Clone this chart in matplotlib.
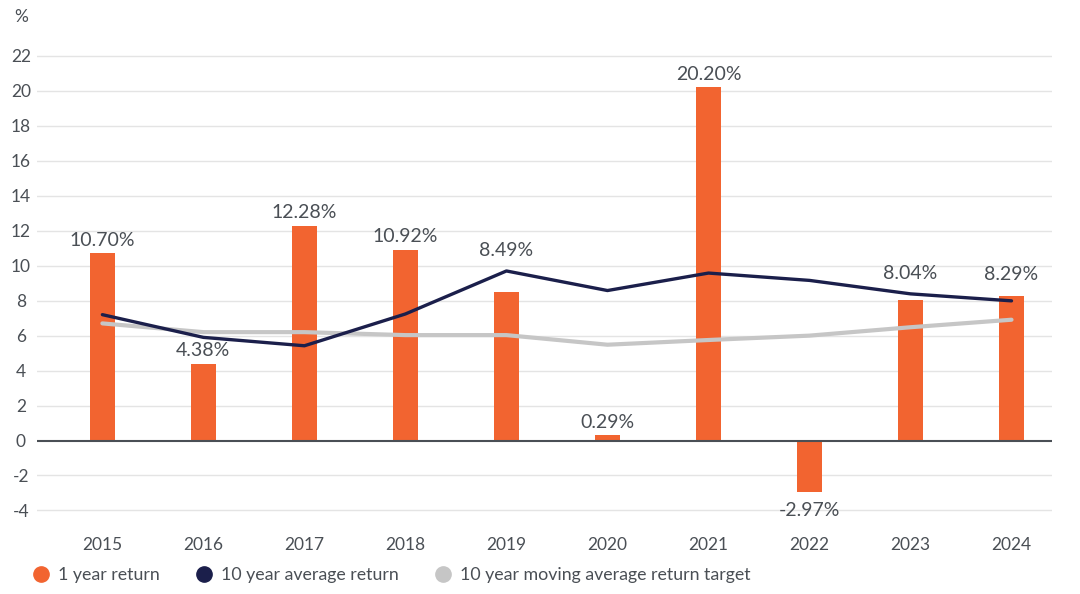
import matplotlib
matplotlib.use("Agg")
import matplotlib.pyplot as plt
from matplotlib.lines import Line2D

years = ["2015", "2016", "2017", "2018", "2019", "2020", "2021", "2022", "2023", "2024"]
one_year = [10.70, 4.38, 12.28, 10.92, 8.49, 0.29, 20.20, -2.97, 8.04, 8.29]
ten_year_avg = [7.2, 5.9, 5.42, 7.24, 9.7, 8.58, 9.58, 9.16, 8.39, 7.99]
ten_year_target = [6.7, 6.2, 6.2, 6.03, 6.03, 5.48, 5.75, 6.0, 6.48, 6.91]
yticks = [-4, -2, 0, 2, 4, 6, 8, 10, 12, 14, 16, 18, 20, 22]

orange = "#F26430"
navy = "#1B1F4B"
grey = "#C6C6C6"
txt = "#4A4F55"

plt.rcParams['font.family'] = ['Lato', 'DejaVu Sans']

fig = plt.figure(figsize=(10.8, 5.94), dpi=100)
ax = fig.add_axes([0.034, 0.126, 0.94, 0.793])

x = list(range(len(years)))

# grid lines
for t in yticks:
    if t == 0:
        continue
    ax.axhline(t, color="#E4E4E4", lw=1, zorder=0)
ax.axhline(0, color=txt, lw=1.5, zorder=3)

ax.bar(x, one_year, width=0.25, color=orange, zorder=2)
ax.plot(x, ten_year_target, color=grey, lw=3, solid_capstyle='round', solid_joinstyle='round', zorder=4)
ax.plot(x, ten_year_avg, color=navy, lw=2.4, solid_capstyle='round', solid_joinstyle='round', zorder=5)

# value labels - pushed above the navy line when it sits close to the bar top
for i, v in enumerate(one_year):
    lab = "%.2f%%" % v
    if v < 0:
        ax.annotate(lab, (i, v), xytext=(0, -13), textcoords='offset points',
                    ha='center', va='center', fontsize=14, color=txt)
    elif abs(ten_year_avg[i] - v) < 1.3:
        ax.annotate(lab, (i, max(v, ten_year_avg[i])), xytext=(0, 15), textcoords='offset points',
                    ha='center', va='center', fontsize=14, color=txt)
    else:
        ax.annotate(lab, (i, v), xytext=(0, 9.5), textcoords='offset points',
                    ha='center', va='center', fontsize=14, color=txt)

ax.set_xlim(-0.65, 9.4)
ax.set_ylim(-4.5, 22.45)
ax.set_yticks(yticks)
ax.set_yticklabels([str(t) for t in yticks], ha='center')
ax.set_xticks(x)
ax.set_xticklabels(years)
ax.tick_params(axis='y', length=0, pad=11.5, labelsize=12.5, colors=txt)
ax.tick_params(axis='x', length=0, pad=13, labelsize=12.5, colors=txt)
for s in ax.spines.values():
    s.set_visible(False)

fig.text(0.0195, 0.972, "%", ha='center', va='center', fontsize=12.5, color=txt)

handles = [
    Line2D([], [], marker='o', ls='', color=orange, markersize=11),
    Line2D([], [], marker='o', ls='', color=navy, markersize=11),
    Line2D([], [], marker='o', ls='', color=grey, markersize=11),
]
labels = ["1 year return", "10 year average return", "10 year moving average return target"]
fig.legend(handles, labels, loc='center left', bbox_to_anchor=(0.013, 0.032), ncol=3,
           frameon=False, fontsize=12.8, handletextpad=0.35, columnspacing=1.9,
           handlelength=1.2, labelcolor=txt)

fig.savefig("out.png", dpi=100)
